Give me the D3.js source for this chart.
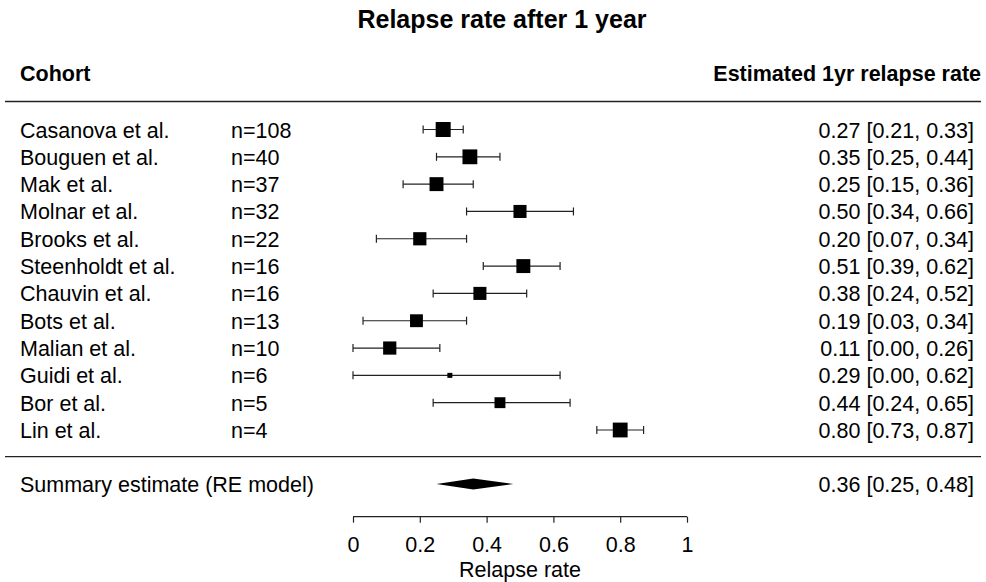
<!DOCTYPE html>
<html>
<head>
<meta charset="utf-8">
<script src="https://cdn.jsdelivr.net/npm/d3@7"></script>
<style>
  body { margin: 0; background: #fff; }
  svg { display: block; font-family: "Liberation Sans", Arial, sans-serif; }
</style>
</head>
<body>
<div id="chart"></div>
<script>
// study data
const cohorts = ["Casanova et al.", "Bouguen et al.", "Mak et al.", "Molnar et al.", "Brooks et al.",
  "Steenholdt et al.", "Chauvin et al.", "Bots et al.", "Malian et al.", "Guidi et al.", "Bor et al.", "Lin et al."];
const sampleSizes = [108, 40, 37, 32, 22, 16, 16, 13, 10, 6, 5, 4];
const estimates = [0.27, 0.35, 0.25, 0.50, 0.20, 0.51, 0.38, 0.19, 0.11, 0.29, 0.44, 0.80];
const lowerCI = [0.21, 0.25, 0.15, 0.34, 0.07, 0.39, 0.24, 0.03, 0.00, 0.00, 0.24, 0.73];
const upperCI = [0.33, 0.44, 0.36, 0.66, 0.34, 0.62, 0.52, 0.34, 0.26, 0.62, 0.65, 0.87];
const weights = [9.6, 9.5, 9.0, 8.5, 8.6, 9.0, 8.5, 8.4, 8.6, 4.0, 7.3, 9.5]; // RE weights (%), estimated
const summary = { label: "Summary estimate (RE model)", est: 0.36, lo: 0.25, hi: 0.48 };
const axisTicks = [0, 0.2, 0.4, 0.6, 0.8, 1];

const width = 986, height = 582;
const font = "\"Liberation Sans\", Arial, sans-serif";
const fs = 21.5;

const svg = d3.select("#chart").append("svg")
  .attr("width", width)
  .attr("height", height);

svg.append("rect").attr("width", width).attr("height", height).attr("fill", "#fff");

const x = d3.scaleLinear().domain([0, 1]).range([353, 687]);
const y = d3.scaleLinear().domain([0, cohorts.length - 1]).range([129.5, 430]);
const boxSize = d3.scaleLinear().domain(d3.extent(weights)).range([5, 15]);

const fmt = d3.format(".2f");
const ciText = (e, l, u) => `${fmt(e)} [${fmt(l)}, ${fmt(u)}]`;

// title + headers
svg.append("text")
  .attr("x", 502).attr("y", 28)
  .attr("text-anchor", "middle")
  .attr("font-size", 25).attr("font-weight", "bold")
  .text("Relapse rate after 1 year");

svg.append("text")
  .attr("x", 20).attr("y", 81)
  .attr("font-size", fs).attr("font-weight", "bold")
  .text("Cohort");

svg.append("text")
  .attr("x", 981).attr("y", 81)
  .attr("text-anchor", "end")
  .attr("font-size", fs).attr("font-weight", "bold")
  .text("Estimated 1yr relapse rate");

// separators
[101.5, 456.7].forEach(ly => {
  svg.append("line")
    .attr("x1", 5).attr("x2", 981)
    .attr("y1", ly).attr("y2", ly)
    .attr("stroke", "#222").attr("stroke-width", 1.3);
});

const rows = cohorts.map((c, i) => ({
  cohort: c, n: sampleSizes[i], est: estimates[i], lo: lowerCI[i], hi: upperCI[i], w: weights[i], i: i
}));

const row = svg.selectAll("g.row")
  .data(rows)
  .enter()
  .append("g")
  .attr("class", "row")
  .attr("transform", d => `translate(0,${y(d.i)})`);

row.append("text")
  .attr("x", 20).attr("y", 8)
  .attr("font-size", fs)
  .text(d => d.cohort);

row.append("text")
  .attr("x", 231).attr("y", 8)
  .attr("font-size", fs)
  .text(d => "n=" + d.n);

row.append("text")
  .attr("x", 974).attr("y", 8)
  .attr("text-anchor", "end")
  .attr("font-size", fs)
  .text(d => ciText(d.est, d.lo, d.hi));

// CI lines with caps
row.append("line")
  .attr("x1", d => x(d.lo)).attr("x2", d => x(d.hi))
  .attr("stroke", "#222").attr("stroke-width", 1.2);

row.selectAll("line.cap")
  .data(d => [d.lo, d.hi])
  .enter()
  .append("line")
  .attr("class", "cap")
  .attr("x1", v => x(v)).attr("x2", v => x(v))
  .attr("y1", -4).attr("y2", 4)
  .attr("stroke", "#222").attr("stroke-width", 1.2);

row.append("rect")
  .attr("x", d => x(d.est) - boxSize(d.w) / 2)
  .attr("y", d => -boxSize(d.w) / 2)
  .attr("width", d => boxSize(d.w))
  .attr("height", d => boxSize(d.w))
  .attr("fill", "#000");

// summary row
const sy = 484;
svg.append("text")
  .attr("x", 20).attr("y", sy + 7.5)
  .attr("font-size", fs)
  .text(summary.label);

svg.append("text")
  .attr("x", 974).attr("y", sy + 7.5)
  .attr("text-anchor", "end")
  .attr("font-size", fs)
  .text(ciText(summary.est, summary.lo, summary.hi));

svg.append("path")
  .attr("d", d3.line()([
    [x(summary.lo), sy], [x(summary.est), sy - 5.5],
    [x(summary.hi), sy], [x(summary.est), sy + 5.5]
  ]) + "Z")
  .attr("fill", "#000");

// x axis
const axisG = svg.append("g")
  .attr("transform", "translate(0,516.7)")
  .call(d3.axisBottom(x).tickValues(axisTicks).tickFormat(d3.format("")).tickSize(6).tickPadding(14));

axisG.select(".domain").attr("stroke", "#222").attr("stroke-width", 1.2)
  .attr("d", `M${x(0)},0H${x(1)}`);
axisG.selectAll(".tick line").attr("stroke", "#222").attr("stroke-width", 1.2);
axisG.selectAll(".tick text")
  .attr("font-family", font).attr("font-size", fs).attr("fill", "#000");

svg.append("text")
  .attr("x", x(0.5)).attr("y", 577)
  .attr("text-anchor", "middle")
  .attr("font-size", fs)
  .text("Relapse rate");
</script>
</body>
</html>
